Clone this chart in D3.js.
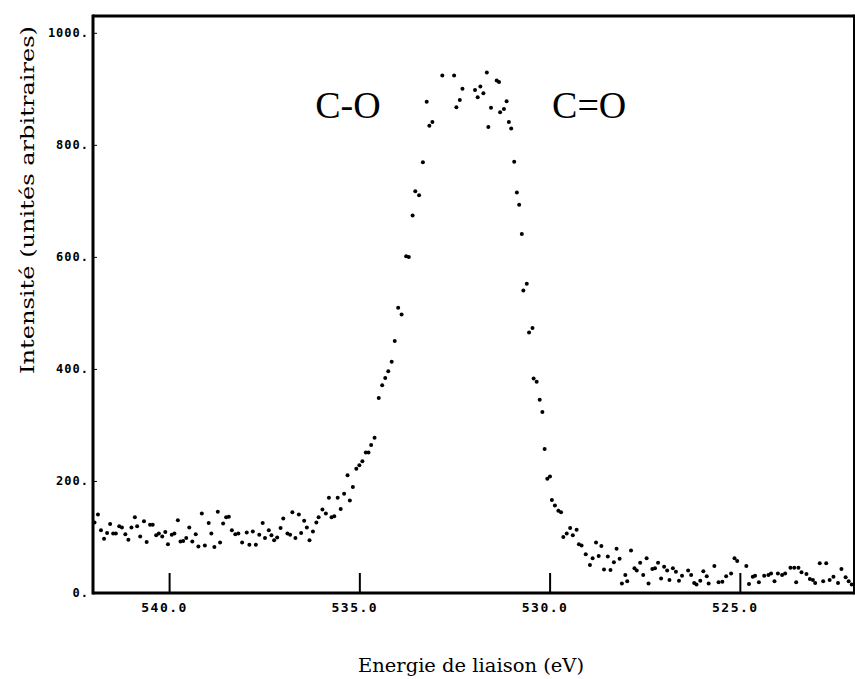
<!DOCTYPE html>
<html>
<head>
<meta charset="utf-8">
<script src="https://cdn.jsdelivr.net/npm/d3@7"></script>
<style>
  html, body { margin: 0; padding: 0; background: #fff; }
  svg { display: block; }
</style>
</head>
<body>
<svg id="chart" width="855" height="679"></svg>
<script>
// Binding energy (eV) of each plotted point
const energies = [
  541.96,541.87,541.79,541.71,541.63,541.55,541.47,541.40,541.31,541.24,
  541.15,541.07,540.99,540.90,540.84,540.76,540.66,540.59,540.50,540.43,
  540.34,540.27,540.18,540.10,540.03,539.93,539.86,539.77,539.70,539.63,
  539.55,539.47,539.39,539.30,539.23,539.14,539.06,538.96,538.89,538.81,
  538.72,538.66,538.58,538.50,538.43,538.35,538.26,538.18,538.08,537.96,
  537.89,537.80,537.72,537.63,537.54,537.48,537.38,537.31,537.24,537.16,
  537.07,537.00,536.89,536.82,536.76,536.68,536.59,536.53,536.45,536.38,
  536.31,536.22,536.13,536.07,535.97,535.88,535.80,535.73,535.66,535.57,
  535.49,535.40,535.31,535.25,535.17,535.08,535.00,534.92,534.83,534.76,
  534.69,534.60,534.49,534.40,534.32,534.24,534.15,534.07,533.98,533.89,
  533.77,533.70,533.60,533.53,533.43,533.33,533.23,533.16,533.08,532.82,
  532.51,532.45,532.36,532.29,531.96,531.89,531.82,531.74,531.65,531.61,
  531.54,531.39,531.33,531.30,531.20,531.13,531.07,531.01,530.93,530.86,
  530.80,530.73,530.69,530.60,530.54,530.45,530.42,530.34,530.26,530.19,
  530.13,530.06,529.99,529.94,529.86,529.77,529.70,529.64,529.55,529.46,
  529.39,529.29,529.23,529.16,529.05,528.94,528.87,528.78,528.71,528.64,
  528.57,528.47,528.40,528.31,528.24,528.16,528.10,528.01,527.96,527.86,
  527.77,527.71,527.62,527.54,527.45,527.40,527.30,527.23,527.15,527.07,
  526.99,526.91,526.85,526.76,526.68,526.60,526.52,526.36,526.28,526.20,
  526.14,526.04,525.96,525.87,525.82,525.67,525.56,525.46,525.36,525.23,
  525.14,525.07,524.83,524.76,524.66,524.60,524.50,524.36,524.25,524.18,
  524.09,524.00,523.89,523.81,523.67,523.57,523.52,523.46,523.38,523.25,
  523.16,523.08,523.02,522.90,522.81,522.73,522.64,522.54,522.42,522.33,
  522.22,522.14,522.06
];

// Intensity (arbitrary units) of each plotted point
const intensities = [
  126,140,112,97,107,123,106,106,119,117,
  105,95,117,135,119,101,128,91,122,122,
  103,106,101,109,87,104,106,130,92,93,
  98,117,92,105,83,142,85,125,106,82,
  145,90,124,135,136,112,105,106,90,108,
  86,110,86,104,125,98,112,103,94,99,
  116,133,106,104,144,98,140,107,129,117,
  94,110,126,135,149,142,170,135,137,170,
  150,177,210,165,189,222,228,235,251,251,
  264,277,348,371,384,396,413,450,509,497,
  601,600,674,717,710,769,877,834,841,924,
  924,867,880,900,898,885,904,892,929,832,
  866,915,912,858,864,878,841,829,770,715,
  693,641,540,552,465,473,383,377,345,323,
  257,204,208,166,156,147,144,100,106,116,
  103,113,87,85,69,50,62,90,66,84,
  42,65,41,55,79,61,17,32,21,76,
  44,40,54,32,62,17,43,44,54,26,
  47,40,23,44,38,22,31,40,32,18,
  15,22,39,30,17,48,19,20,30,35,
  62,57,48,16,29,31,19,31,32,35,
  21,35,32,35,45,45,19,45,37,34,
  25,23,18,53,21,53,23,29,18,43,
  28,21,15
];

const xTicks = [540, 535, 530, 525];
const yTicks = [0, 200, 400, 600, 800, 1000];
const xDomain = [542, 522];
const yDomain = [0, 1030];
const peakLabels = [
  { text: "C-O", energy: 535.30 },
  { text: "C=O", energy: 528.96 }
];
const xTitle = "Energie de liaison (eV)";
const yTitle = "Intensité (unités arbitraires)";

const svg = d3.select("#chart");
const L = 93, R = 854, T = 16, B = 593;

const x = d3.scaleLinear().domain(xDomain).range([L, R]);
const y = d3.scaleLinear().domain(yDomain).range([B, T]);

// X axis with inward ticks
const gx = svg.append("g")
  .attr("transform", `translate(0,${B})`)
  .call(d3.axisBottom(x).tickValues(xTicks).tickSize(-20).tickPadding(10)
        .tickFormat(d => d3.format(".1f")(d)));
gx.select(".domain").remove();
gx.selectAll(".tick line").attr("stroke", "#000").attr("stroke-width", 2);
gx.selectAll(".tick text")
  .attr("x", -5)
  .attr("font-family", "'DejaVu Sans Mono', monospace")
  .attr("font-weight", "bold")
  .attr("font-size", 13)
  .attr("letter-spacing", 1.5)
  .attr("fill", "#000");

// Y axis
const gy = svg.append("g")
  .attr("transform", `translate(${L},0)`)
  .call(d3.axisLeft(y).tickValues(yTicks).tickSize(-4).tickPadding(4)
        .tickFormat(d => d + "."));
gy.select(".domain").remove();
gy.selectAll(".tick line").attr("stroke", "#000").attr("stroke-width", 1);
gy.selectAll(".tick text")
  .attr("font-family", "'DejaVu Sans Mono', monospace")
  .attr("font-weight", "bold")
  .attr("font-size", 12)
  .attr("letter-spacing", 1)
  .attr("fill", "#000");

// Frame
const frame = svg.append("g").attr("stroke", "#000").attr("fill", "none");
frame.append("line").attr("x1", L).attr("x2", R).attr("y1", T).attr("y2", T).attr("stroke-width", 3);
frame.append("line").attr("x1", L).attr("x2", R).attr("y1", B).attr("y2", B).attr("stroke-width", 3);
frame.append("line").attr("x1", L).attr("x2", L).attr("y1", T - 1.5).attr("y2", B + 1.5).attr("stroke-width", 3);
frame.append("line").attr("x1", R).attr("x2", R).attr("y1", T - 1.5).attr("y2", B + 1.5).attr("stroke-width", 2);

// Points
const pts = energies.map((e, i) => ({ e, v: intensities[i] }));
svg.append("g").selectAll("circle")
  .data(pts)
  .join("circle")
  .attr("cx", d => x(d.e))
  .attr("cy", d => y(d.v))
  .attr("r", 2)
  .attr("fill", "#000");

// Peak annotations
svg.append("g").selectAll("text")
  .data(peakLabels)
  .join("text")
  .attr("x", d => x(d.energy))
  .attr("y", 118)
  .attr("text-anchor", "middle")
  .attr("font-family", "'Liberation Serif', 'Times New Roman', serif")
  .attr("font-size", 38)
  .attr("fill", "#000")
  .text(d => d.text);

// Axis titles
svg.append("text")
  .attr("x", 471)
  .attr("y", 672)
  .attr("text-anchor", "middle")
  .attr("font-family", "'DejaVu Serif', serif")
  .attr("font-size", 19)
  .attr("textLength", 226)
  .attr("lengthAdjust", "spacingAndGlyphs")
  .attr("fill", "#000")
  .text(xTitle);

svg.append("text")
  .attr("transform", "translate(34,200) rotate(-90)")
  .attr("text-anchor", "middle")
  .attr("font-family", "'DejaVu Serif', serif")
  .attr("font-size", 19)
  .attr("textLength", 348)
  .attr("lengthAdjust", "spacingAndGlyphs")
  .attr("fill", "#000")
  .text(yTitle);
</script>
</body>
</html>
